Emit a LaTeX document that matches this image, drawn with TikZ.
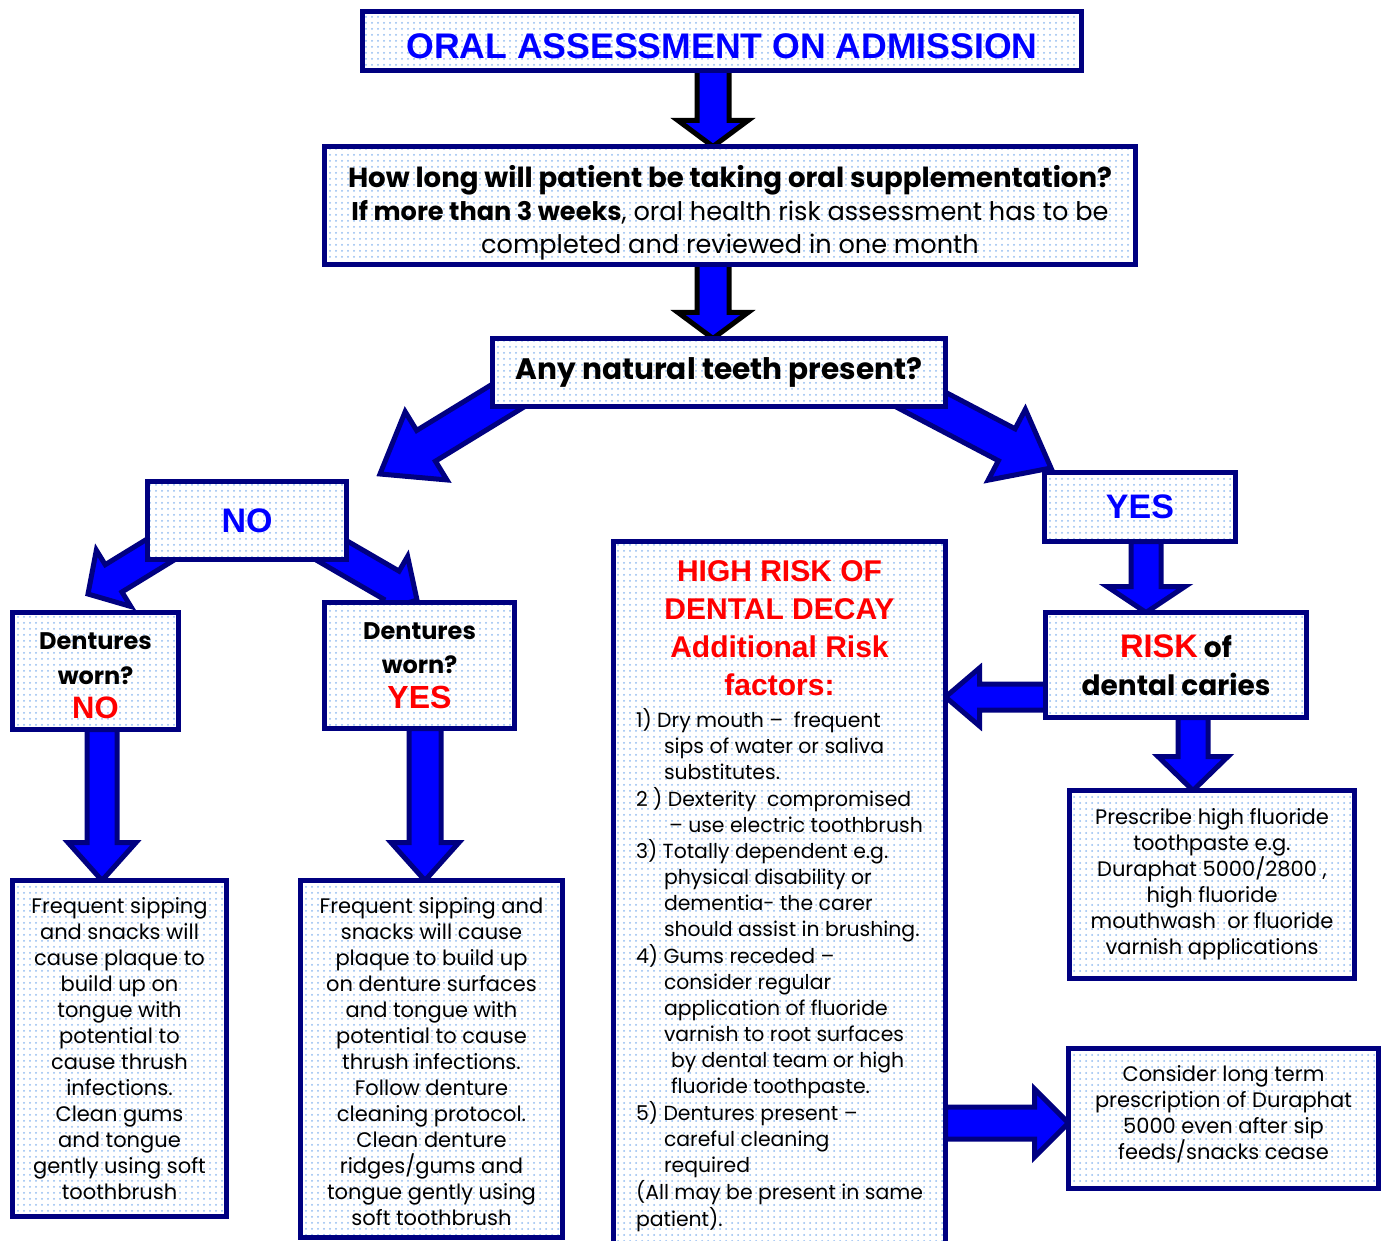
\documentclass[tikz,border=0pt]{standalone}
\usepackage{fontspec}
\setmainfont{Poppins}
\newfontfamily\heavy{Liberation Sans}
\usetikzlibrary{positioning,calc,patterns,backgrounds}

\definecolor{navy}{RGB}{0,0,128}
\definecolor{dotblue}{RGB}{145,188,240}
\definecolor{arrowblue}{RGB}{0,0,255}
\definecolor{alertred}{RGB}{255,0,0}

\tikzset{
  box/.style={draw=navy, line width=2.5pt, preaction={fill=white},
    pattern=dots, pattern color=dotblue, inner sep=0pt, outer sep=0pt,
    align=center, font=\fontsize{10.5}{13}\selectfont},
  bigword/.style={font=\heavy\bfseries\fontsize{17}{19}\selectfont, text=arrowblue},
  question/.style={font=\bfseries\fontsize{12}{17.25}\selectfont},
  % block arrow: half shaft, half head, head length
  fatarrow/.style n args={3}{draw=navy, line width=2.5pt, fill=arrowblue, line join=miter,
    to path={($(\tikztostart)!#1!90:(\tikztotarget)$)
      -- ($(\tikztotarget)!#3!(\tikztostart)!#1!-90:(\tikztostart)$)
      -- ($(\tikztotarget)!#3!(\tikztostart)!#2!-90:(\tikztostart)$)
      -- (\tikztotarget)
      -- ($(\tikztotarget)!#3!(\tikztostart)!#2!90:(\tikztostart)$)
      -- ($(\tikztotarget)!#3!(\tikztostart)!#1!90:(\tikztostart)$)
      -- ($(\tikztostart)!#1!-90:(\tikztotarget)$) -- cycle}}
}

\newcommand\redbig[1]{{\heavy\bfseries\color{alertred}#1}}
\newcommand\redhead[1]{{\heavy\bfseries\color{alertred}\fontsize{15}{19}\selectfont #1}}

\begin{document}
\begin{tikzpicture}[x=0.5pt, y=-0.5pt]
\useasboundingbox (0,0) rectangle (1387,1241);

% Boxes
\node[box, minimum width=359.5pt, minimum height=29.5pt,
  font=\heavy\bfseries\fontsize{17.8}{20}\selectfont, text=arrowblue]
  (title) at (722,41) {\rule{0pt}{17.5pt}ORAL ASSESSMENT ON ADMISSION};

\node[box, minimum width=405.5pt, minimum height=59pt, font=\fontsize{12.8}{16.5}\selectfont]
  (supp) at (730,205.5)
  {\rule{0pt}{18.2pt}{\bfseries\fontsize{13.8}{16.5}\selectfont How long will patient be taking oral supplementation?}\\
   {\bfseries If more than 3 weeks}, oral health risk assessment has to be\\
   completed and reviewed in one month};

\node[box, minimum width=226.5pt, minimum height=34pt, font=\bfseries\fontsize{14.8}{16}\selectfont]
  (teeth) at (719,372.5) {Any natural teeth present?};

\node[box, bigword, minimum width=99.5pt, minimum height=39pt] (no) at (247,520.5) {NO};
\node[box, bigword, minimum width=95.5pt, minimum height=34.5pt] (yes) at (1140,507) {YES};

\node[box, question, minimum width=83pt, minimum height=58.5pt] (dentno) at (95.5,671)
  {\rule{0pt}{13.4pt}Dentures\\ worn?\\ \redbig{\fontsize{15.5}{17}\selectfont NO}};
\node[box, question, minimum width=95pt, minimum height=63pt] (dentyes) at (419.5,665.5)
  {Dentures\\ worn?\\ \redbig{\fontsize{16}{17}\selectfont YES}};

\node[box, minimum width=107pt, minimum height=168pt] (careno) at (119.5,1048.5)
  {Frequent sipping\\ and snacks will\\ cause plaque to\\ build up on\\ tongue with\\
   potential to\\ cause thrush\\ infections.\\ Clean gums\\ and tongue\\
   gently using soft\\ toothbrush};

\node[box, minimum width=131pt, minimum height=178.5pt] (careyes) at (431.5,1059)
  {\rule{0pt}{11pt}Frequent sipping and\\ snacks will cause\\ plaque to build up\\ on denture surfaces\\
   and tongue with\\ potential to cause\\ thrush infections.\\ Follow denture\\
   cleaning protocol.\\ Clean denture\\ ridges/gums and\\ tongue gently using\\
   soft toothbrush};

\node[box, minimum width=166pt, minimum height=356pt] (highrisk) at (779.5,897.5)
  {\redhead{HIGH RISK OF}\\[6pt] \redhead{DENTAL DECAY}\\[6pt]
   \redhead{Additional Risk}\\[6pt] \redhead{factors:}\\[5pt]
   \fontsize{10.2}{13}\selectfont
   \begin{tabular}{@{}l@{}}
   1) Dry mouth --\ \ frequent\\
   \hspace{14pt}sips of water or saliva\\
   \hspace{14pt}substitutes.\\
   2 ) Dexterity\ \ compromised\\
   \hspace{16.5pt}-- use electric toothbrush\\
   3) Totally dependent e.g.\\
   \hspace{14pt}physical disability or\\
   \hspace{14pt}dementia- the carer\\
   \hspace{14pt}should assist in brushing.\\
   4) Gums receded --\\
   \hspace{14pt}consider regular\\
   \hspace{14pt}application of fluoride\\
   \hspace{14pt}varnish to root surfaces\\
   \hspace{17.5pt}by dental team or high\\
   \hspace{17.5pt}fluoride toothpaste.\\
   5) Dentures present --\\
   \hspace{14pt}careful cleaning\\
   \hspace{14pt}required\\
   (All may be present in same\\
   patient).
   \end{tabular}};

\node[box, minimum width=130.5pt, minimum height=52.5pt,
  font=\bfseries\fontsize{14}{19}\selectfont] (risk) at (1176,665)
  {\redbig{\fontsize{16.3}{19}\selectfont RISK} of\\ dental caries};

\node[box, minimum width=142.5pt, minimum height=94pt] (prescribe) at (1212,884.5)
  {Prescribe high fluoride\\ toothpaste e.g.\\ Duraphat 5000/2800 ,\\ high fluoride\\
   mouthwash\ \ or fluoride\\ varnish applications};

\node[box, minimum width=155pt, minimum height=70pt] (consider) at (1223.5,1118.5)
  {Consider long term\\ prescription of Duraphat\\ 5000 even after sip\\ feeds/snacks cease\\[-7pt]\mbox{}};

% Arrow end points
\coordinate (topaxis) at (713,0);
\coordinate (a1s) at (topaxis |- title.south);
\coordinate (a1e) at (topaxis |- supp.north);
\coordinate (a2s) at (topaxis |- supp.south);
\coordinate (a2e) at (topaxis |- teeth.north);
\coordinate (lefts) at (550,370);
\coordinate (lefte) at (380,474);
\coordinate (rights) at (874,375);
\coordinate (righte) at (1051,468);
\coordinate (nols) at (217,515);
\coordinate (nole) at (88,594);
\coordinate (nors) at (286,524);
\coordinate (nore) at (417,600);
\coordinate (dnaxis) at (102,0);
\coordinate (dns) at (dnaxis |- dentno.south);
\coordinate (dne) at (dnaxis |- careno.north);
\coordinate (dyaxis) at (425,0);
\coordinate (dys) at (dyaxis |- dentyes.south);
\coordinate (dye) at (dyaxis |- careyes.north);
\coordinate (yaxis) at (1146,0);
\coordinate (ys) at (yaxis |- yes.south);
\coordinate (ye) at (yaxis |- risk.north);
\coordinate (paxis) at (1193,0);
\coordinate (ps) at (paxis |- risk.south);
\coordinate (pe) at (paxis |- prescribe.north);
\coordinate (haxis) at (0,697);
\coordinate (hs) at (haxis -| risk.west);
\coordinate (he) at (haxis -| highrisk.east);
\coordinate (caxis) at (0,1123);
\coordinate (cs) at (caxis -| highrisk.east);
\coordinate (ce) at (caxis -| consider.west);

% Block arrows behind the boxes
\begin{pgfonlayer}{background}
\draw[fatarrow={8pt}{17.5pt}{13pt}, draw=black] (a1s) to (a1e);
\draw[fatarrow={8pt}{17.5pt}{13pt}, draw=black] (a2s) to (a2e);
\draw[fatarrow={9pt}{20pt}{27pt}] (lefts) to (lefte);
\draw[fatarrow={9pt}{20pt}{25pt}] (rights) to (righte);
\draw[fatarrow={8pt}{16.5pt}{15pt}] (nols) to (nole);
\draw[fatarrow={8pt}{16.5pt}{15pt}] (nors) to (nore);
\draw[fatarrow={7.5pt}{17pt}{19pt}] (dns) to (dne);
\draw[fatarrow={8pt}{17pt}{19pt}] (dys) to (dye);
\draw[fatarrow={7.5pt}{19.5pt}{13pt}] (ys) to (ye);
\draw[fatarrow={7.5pt}{17.5pt}{17pt}] (ps) to (pe);
\draw[fatarrow={6.5pt}{14.5pt}{17pt}] (hs) to (he);
\draw[fatarrow={8pt}{17pt}{17pt}] (cs) to (ce);
\end{pgfonlayer}
\end{tikzpicture}
\end{document}
